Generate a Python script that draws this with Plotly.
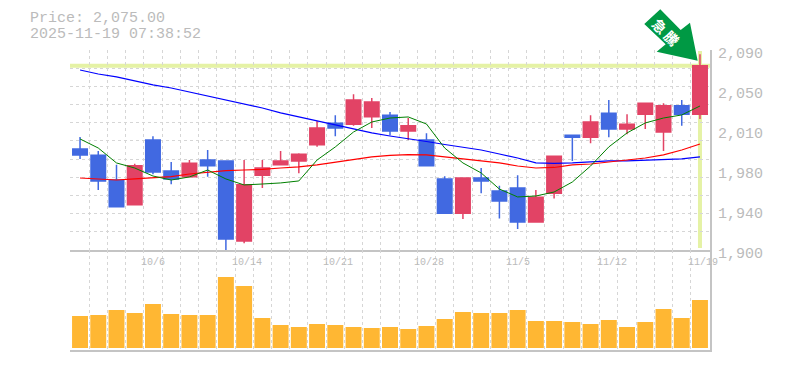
import plotly.graph_objects as go

dates = ["9/30","10/1","10/2","10/3","10/6","10/7","10/8","10/9","10/10","10/14","10/15","10/16","10/17","10/20","10/21","10/22","10/23","10/24","10/27","10/28","10/29","10/30","10/31","11/4","11/5","11/6","11/7","11/10","11/11","11/12","11/13","11/14","11/17","11/18","11/19"]
date_ticks = ["10/6","10/14","10/21","10/28","11/5","11/12","11/19"]
price_ticks = [1900,1938,1976,2014,2052,2090]
price_labels = ["1,900","1,940","1,980","2,010","2,050","2,090"]
current_price = 2075.0

opens = [1996,1990,1966.5,1943,2004.5,1975,1969.5,1985.5,1984.5,1908.5,1971,1981,1984.5,2000,2020.5,2019.5,2026.5,2028,2013,2004.5,1967.5,1935,1968.5,1956,1959,1926.5,1954,2009,2007,2030,2015,2029,2012,2037,2029]
closes = [1990.25,1965.5,1941,1980,1974,1967.5,1982.5,1980,1910.5,1962,1978,1984.5,1991,2016,2016,2042.5,2040.5,2013,2018,1980,1935,1968.5,1965.5,1946.5,1926.5,1950,1989,2007,2021.5,2015,2019.5,2039.5,2037,2029,2075]
highs = [2007.35,1994,1981,1982,2008,1983.5,1985.5,1995,1984.5,1985.5,1985.5,1994,1992,2022.5,2028,2048,2044.5,2031,2025.5,2011,1970,1968.5,1978,1961,1971,1957,1989,2009,2028,2042.5,2029,2039.5,2039.5,2042.5,2086]
lows = [1986.45,1957,1941,1943,1972,1962.5,1969.5,1969.5,1900,1906.5,1959,1981,1973,1998,2008,2018,2016,2009,2004.5,1980,1935,1929.5,1954,1930,1920,1926.5,1949,1984.5,2001.5,2007,2010,2015,1994,2018,2024.5]

ma_long = [2071,2067.2,2064.4,2060.6,2056.8,2053.9,2050.1,2046.3,2042.5,2038.7,2034.9,2030.2,2026.4,2022.6,2018.3,2015,2011.2,2008.3,2005.9,2003.1,2000.2,1997.4,1995,1991.2,1987.4,1982.7,1982.2,1982.7,1983.6,1984.6,1984.6,1985,1985.5,1986.5,1988.4]
ma_mid = [1968.4,1967.5,1966.5,1967.5,1968.4,1969.8,1972.2,1974.1,1975.5,1976,1976.5,1977.9,1978.9,1980.8,1983.1,1985.5,1988.4,1989.8,1990.7,1990.3,1988.4,1986.5,1984.6,1982.7,1979.8,1977.9,1978.4,1980.8,1981.7,1983.6,1985.5,1987.4,1990.3,1995,2000.7]
ma_short = [2005.5,1996.9,1982.7,1977.9,1970.3,1966.5,1969.4,1976,1967.5,1961.8,1962.7,1963.7,1965.6,1985.5,1997.9,2012.1,2021.6,2025.4,2026.4,2019.7,1996.9,1982.7,1973.2,1957.9,1950.4,1951.3,1955.1,1964.6,1979.8,1997.9,2011.2,2020.7,2025.4,2028.3,2036.8]

volumes = [32,33,38,35,44,34,33,33,71,62,30,23,21,24,23,21,20,21,19,22,29,36,35,35,38,27,27,26,24,28,21,26,39,30,48]

GREY = "#bbbbbb"
GRID = "#d6d6d6"
AXIS = "#c4c4c4"
FONT = "Liberation Mono, Courier New, monospace"
idx = list(range(len(dates)))
XRANGE = [-0.55, 34.55]
YRANGE = [1900, 2090]
PRICE_DOMAIN = [1/3, 1]

fig = go.Figure()
for vals, col, w in [(ma_long, "#0000ff", 1.2), (ma_mid, "#ff0000", 1.2), (ma_short, "#008000", 1.0)]:
    fig.add_trace(go.Scatter(x=idx, y=vals, mode="lines", line=dict(color=col, width=w), xaxis="x", yaxis="y", hoverinfo="skip"))
fig.add_trace(go.Candlestick(
    x=idx, open=opens, high=highs, low=lows, close=closes, xaxis="x", yaxis="y", whiskerwidth=0,
    increasing=dict(line=dict(color="#e24365", width=1.5), fillcolor="#e24365"),
    decreasing=dict(line=dict(color="#4169e1", width=1.5), fillcolor="#4169e1"),
))
fig.add_trace(go.Bar(x=idx, y=volumes, marker=dict(color="#ffb733", line_width=0), width=0.875, xaxis="x2", yaxis="y2", hoverinfo="skip"))

xa = dict(range=XRANGE, tick0=-0.5, dtick=1, showticklabels=False, ticks="",
          showgrid=True, gridcolor=GRID, griddash="3px,3px", gridwidth=1.2, zeroline=False,
          showline=True, linecolor=AXIS, linewidth=1.5, domain=[0, 1])
ya = dict(side="right", showticklabels=False, ticks="", showline=True, linecolor=AXIS, linewidth=1.5, zeroline=False)

annotations = []
for v, s in zip(price_ticks, price_labels):
    annotations.append(dict(x=1, xref="paper", y=v, yref="y", text=s, showarrow=False, xanchor="left", yanchor="middle",
                            xshift=6, yshift=-4, font=dict(family=FONT, size=15, color=GREY)))
for d in date_ticks:
    annotations.append(dict(x=dates.index(d) - 0.5, xref="x2", y=1, yref="y2 domain", text=d, showarrow=False, xanchor="left", yanchor="middle",
                            xshift=-5, yshift=-12, font=dict(family=FONT, size=10, color=GREY)))
for text, yshift in [("Price: 2,075.00", 32), ("2025-11-19 07:38:52", 16)]:
    annotations.append(dict(x=0, xref="paper", y=1, yref="paper", text=text, showarrow=False, xanchor="left", yanchor="middle",
                            xshift=-42, yshift=yshift, font=dict(family=FONT, size=15, color=GREY)))
annotations.append(dict(x=34, xref="x", y=current_price, yref="y", text="<b>急</b>", showarrow=False, textangle=45,
                        xshift=-40, yshift=40, font=dict(family="Noto Sans CJK JP", size=14, color="white")))
annotations.append(dict(x=34, xref="x", y=current_price, yref="y", text="<b>騰</b>", showarrow=False, textangle=45,
                        xshift=-28, yshift=28, font=dict(family="Noto Sans CJK JP", size=14, color="white")))

anchor_x = (34 - XRANGE[0]) / (XRANGE[1] - XRANGE[0])
anchor_y = PRICE_DOMAIN[0] + (current_price - YRANGE[0]) / (YRANGE[1] - YRANGE[0]) * (PRICE_DOMAIN[1] - PRICE_DOMAIN[0])

highlight = "#e5f2a5"
shapes = [
    dict(type="line", xref="paper", x0=0, x1=1, yref="y", y0=current_price, y1=current_price, line=dict(color=highlight, width=4), layer="below"),
    dict(type="line", xref="x", x0=34, x1=34, yref="y", y0=1902, y1=2089, line=dict(color=highlight, width=4), layer="below"),
    dict(type="path", xref="paper", yref="paper", xsizemode="pixel", ysizemode="pixel", xanchor=anchor_x, yanchor=anchor_y,
         path="M -55.7 41.8 L -39.7 56.5 L -19.3 35.8 L -10 43.1 L -2.3 5.1 L -43.3 14.1 L -34.3 21.5 Z",
         fillcolor="#009944", line_width=0, layer="above"),
]

fig.update_layout(
    width=785, height=370, autosize=False, margin=dict(l=70, r=75, t=50, b=20, pad=0),
    paper_bgcolor="white", plot_bgcolor="white", showlegend=False, boxgap=0.205, boxgroupgap=0,
    xaxis=dict(**xa, anchor="y", rangeslider=dict(visible=False)),
    xaxis2=dict(**xa, anchor="y2"),
    yaxis=dict(**ya, domain=PRICE_DOMAIN, range=YRANGE, tick0=1900, dtick=190/11,
               showgrid=True, gridcolor=GRID, griddash="3px,3px", gridwidth=1.2, anchor="x"),
    yaxis2=dict(**ya, domain=[0, 1/3], range=[-2, 98], showgrid=False, anchor="x2"),
    annotations=annotations, shapes=shapes,
)
fig.write_html("out.html", config=dict(displayModeBar=False), post_script="document.body.style.margin='0';window.dispatchEvent(new Event('resize'));")
